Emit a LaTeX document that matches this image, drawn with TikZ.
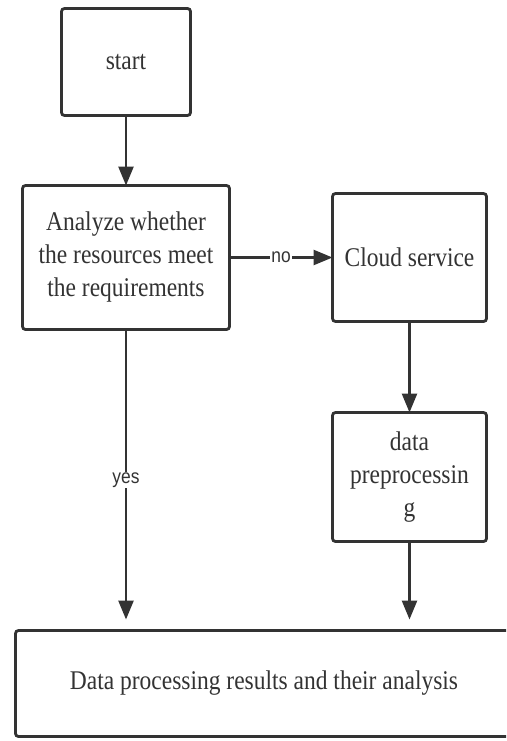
\documentclass[tikz,border=0pt]{standalone}
\usepackage{fontspec}
\setmainfont{Liberation Serif}[FakeStretch=0.87]
\newfontfamily\labelfont{Liberation Sans}[FakeStretch=0.87]
\usetikzlibrary{arrows.meta}
\definecolor{ink}{HTML}{333333}
\begin{document}
\begin{tikzpicture}[x=1pt,y=-1pt,
  box/.style={draw=ink, line width=2.8pt, rounded corners=3pt, align=center,
    text=ink, inner sep=2pt, outer sep=0pt,
    font=\fontsize{27}{33}\selectfont},
  arr/.style={draw=ink, line width=2.6pt, -{Triangle[length=19pt,width=15pt]}},
  lbl/.style={fill=white, text=ink, inner sep=1pt,
    font=\labelfont\fontsize{20}{22}\selectfont}]
  \clip (0,0) rectangle (506,741);
  \fill[white] (0,0) rectangle (506,741);

  % process boxes
  \node[box, minimum width=129pt, minimum height=107pt] (start) at (126,62) {start};
  \node[box, minimum width=207pt, minimum height=144pt] (analyze) at (126,257.5)
    {Analyze whether\\the resources meet\\the requirements};
  \node[box, minimum width=154pt, minimum height=128pt] (cloud) at (409.5,257.5)
    {Cloud service};
  \node[box, minimum width=154pt, minimum height=129pt] (prep) at (409.5,477)
    {data\\preprocessin\\g};
  \node[box, minimum width=497pt, minimum height=106pt] (result) at (264,683.5)
    {Data processing results and their analysis};

  % connectors
  \draw[arr] (start) -- (analyze);
  \draw[arr] (analyze) -- node[lbl] {no} (cloud);
  \draw[arr] (cloud) -- (prep);
  \draw[arr, shorten >=11pt] (analyze) -- node[lbl, pos=0.5] {yes} (analyze.south |- result.north);
  \draw[arr, shorten >=11pt] (prep) -- (prep.south |- result.north);
\end{tikzpicture}
\end{document}
